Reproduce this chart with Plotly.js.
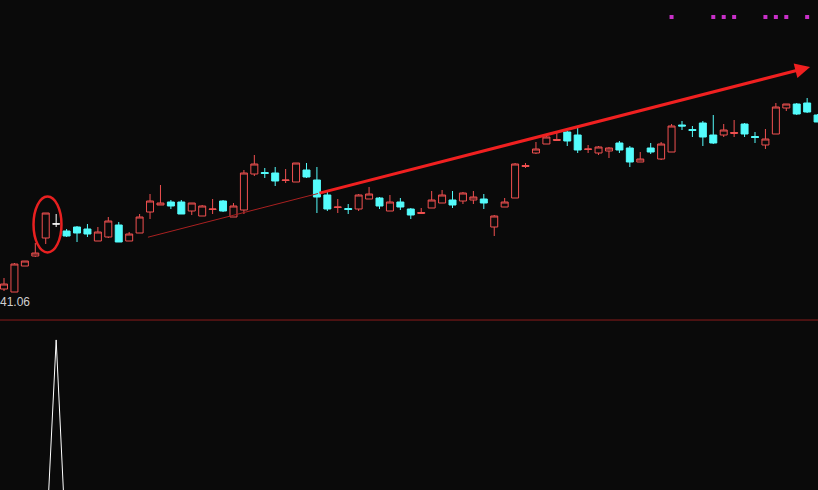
<!DOCTYPE html>
<html><head><meta charset="utf-8">
<script src="https://cdn.plot.ly/plotly-3.0.1.min.js"></script>
<style>html,body{margin:0;padding:0;background:#0a0a0a;overflow:hidden}#chart{width:818px;height:490px;}</style>
</head><body><div id="chart"></div>
<script>
// Daily candles (index 0..78)
const openP = [
41.36,41.06,43.66,44.66,46.46,47.86,47.16,47.56,47.36,46.16,
46.56,47.76,46.16,46.96,49.06,49.76,50.06,50.06,49.16,48.66,
49.31,50.16,48.56,49.26,52.86,53.01,52.96,52.21,52.06,53.26,
52.26,50.76,49.51,49.41,49.36,50.36,50.46,49.16,50.06,49.36,
48.91,49.46,49.96,50.26,50.16,50.26,50.36,47.56,49.56,50.46,
53.61,54.96,55.86,56.21,57.06,56.76,55.31,54.96,55.16,55.96,
55.46,54.06,55.46,54.36,55.06,57.76,57.31,57.96,56.76,56.76,
56.91,57.86,56.61,55.76,56.86,59.46,59.86,59.96,58.76];
const closeP = [
41.86,43.86,44.16,44.96,48.96,47.87,46.66,46.96,46.86,47.06,
48.16,46.06,46.86,48.56,50.16,49.96,49.66,48.86,49.96,49.66,
49.36,49.16,49.66,52.96,53.86,52.91,52.16,52.26,53.96,52.56,
50.56,49.36,49.56,49.31,50.76,50.86,49.66,50.06,49.56,48.76,
49.01,50.26,50.76,49.76,50.96,50.56,49.96,48.66,50.06,53.86,
53.71,55.36,56.56,56.31,56.16,55.26,55.36,55.56,55.46,55.26,
54.06,54.36,55.06,55.86,57.66,57.66,57.21,56.56,55.96,57.26,
57.01,56.86,56.51,56.36,59.56,59.86,58.86,59.06,58.06];
const highP = [
42.46,43.96,44.16,45.96,48.96,48.86,47.36,47.66,47.86,47.56,
48.56,48.06,47.06,48.86,50.86,51.76,50.26,50.26,49.96,49.76,
50.36,50.26,49.96,53.26,54.76,53.46,53.56,53.36,53.96,53.96,
53.56,51.16,50.36,49.86,50.86,51.56,50.56,50.76,50.46,49.46,
49.46,51.16,51.26,51.16,51.06,51.16,50.86,48.76,50.46,53.96,
53.96,56.06,56.66,56.96,57.16,57.46,55.76,55.66,55.56,56.16,
55.66,55.06,55.96,56.06,57.86,58.16,57.66,58.16,58.76,57.86,
58.26,57.96,57.06,57.36,59.96,59.86,59.96,60.46,58.86];
const lowP = [
41.16,41.06,43.66,44.56,45.86,47.56,46.56,46.06,46.56,46.16,
46.46,46.06,46.16,46.96,48.36,49.76,49.36,48.86,48.76,48.66,
48.86,49.06,48.56,48.86,52.66,52.46,51.66,51.96,52.06,52.46,
48.96,49.16,48.96,48.86,49.16,50.36,49.36,49.16,49.26,48.36,
48.86,49.46,49.96,49.46,49.86,49.86,49.36,46.66,49.56,50.46,
53.46,54.86,55.86,56.16,55.66,54.96,54.96,54.76,54.46,54.96,
53.56,54.06,54.86,54.26,55.06,57.26,56.56,55.66,55.86,56.56,
56.56,56.56,55.96,55.36,56.86,59.16,58.76,58.96,58.06];
const whiteDojiIdx = [5];
const lowLabel = "41.06";

// Signal dots (top) and bottom indicator
const signalIdx = [64,68,69,70,73,74,75,77];
const signalLevel = 68.56;
const indX = [4,5,6];
const indV = [-36.1,88.8,-39.6];

// Trend line (start, break, tip) and circle marker
const trendX = [13.8,30.1,77.28];
const trendY = [46.54,50.91,63.56];
const circleX = [2.83,5.51];
const circleY = [45.01,50.61];

const idx = openP.map((_,i)=>i);
const mainIdx = idx.filter(i=>!whiteDojiIdx.includes(i));
const pick = (arr, ids) => ids.map(i=>arr[i]);

const UP = '#f05050', DOWN = '#54fcfc', BG = '#0a0a0a';

const traces = [
  {type:'candlestick', x:mainIdx, open:pick(openP,mainIdx), high:pick(highP,mainIdx), low:pick(lowP,mainIdx), close:pick(closeP,mainIdx),
   increasing:{line:{color:UP,width:1}, fillcolor:BG},
   decreasing:{line:{color:DOWN,width:1}, fillcolor:DOWN},
   whiskerwidth:0, hoverinfo:'skip', xaxis:'x', yaxis:'y', showlegend:false},
  {type:'candlestick', x:whiteDojiIdx, open:pick(openP,whiteDojiIdx), high:pick(highP,whiteDojiIdx), low:pick(lowP,whiteDojiIdx), close:pick(closeP,whiteDojiIdx),
   increasing:{line:{color:'#ffffff',width:1}, fillcolor:'#ffffff'},
   decreasing:{line:{color:'#ffffff',width:1}, fillcolor:'#ffffff'},
   whiskerwidth:0, hoverinfo:'skip', xaxis:'x', yaxis:'y', showlegend:false},
  {type:'scatter', mode:'lines', x:trendX.slice(0,2), y:trendY.slice(0,2), line:{color:'#a82020',width:1}, hoverinfo:'skip', showlegend:false},
  {type:'scatter', mode:'markers', x:signalIdx, y:signalIdx.map(()=>signalLevel), marker:{symbol:'square',size:4,color:'#c830c8'}, hoverinfo:'skip', showlegend:false},
  {type:'scatter', mode:'lines', x:indX, y:indV, xaxis:'x', yaxis:'y2', line:{color:'#ffffff',width:1}, hoverinfo:'skip', showlegend:false}
];

const layout = {
  width:818, height:490,
  margin:{l:0,r:0,t:0,b:0},
  paper_bgcolor:BG, plot_bgcolor:BG,
  showlegend:false,
  boxgap:0.33, boxgroupgap:0,
  xaxis:{range:[-0.384,78.04], visible:false, rangeslider:{visible:false}, fixedrange:true},
  yaxis:{domain:[0.3469,1], range:[38.26,70.26], visible:false},
  yaxis2:{domain:[0,0.3449], range:[0,100], visible:false, anchor:'x'},
  shapes:[
    {type:'line', xref:'paper', yref:'paper', x0:0, x1:1, y0:0.3469, y1:0.3469, line:{color:'#8c1c1c',width:1}},
    {type:'circle', xref:'x', yref:'y', x0:circleX[0], x1:circleX[1], y0:circleY[0], y1:circleY[1], line:{color:'#e82020',width:2.5}}
  ],
  annotations:[
    {xref:'x', yref:'y', axref:'x', ayref:'y', x:trendX[2], y:trendY[2], ax:trendX[1], ay:trendY[1], text:'', showarrow:true, arrowhead:2, arrowsize:1.0, arrowwidth:3, arrowcolor:'#f02020', standoff:0},
    {xref:'paper', yref:'paper', x:-2/818, y:1-302/490, xanchor:'left', yanchor:'middle', text:lowLabel, showarrow:false, font:{family:'Liberation Sans, Arial, sans-serif', size:12, color:'#d0d0d0'}}
  ]
};

Plotly.newPlot('chart', traces, layout, {staticPlot:true, displayModeBar:false});
</script>
</body></html>
